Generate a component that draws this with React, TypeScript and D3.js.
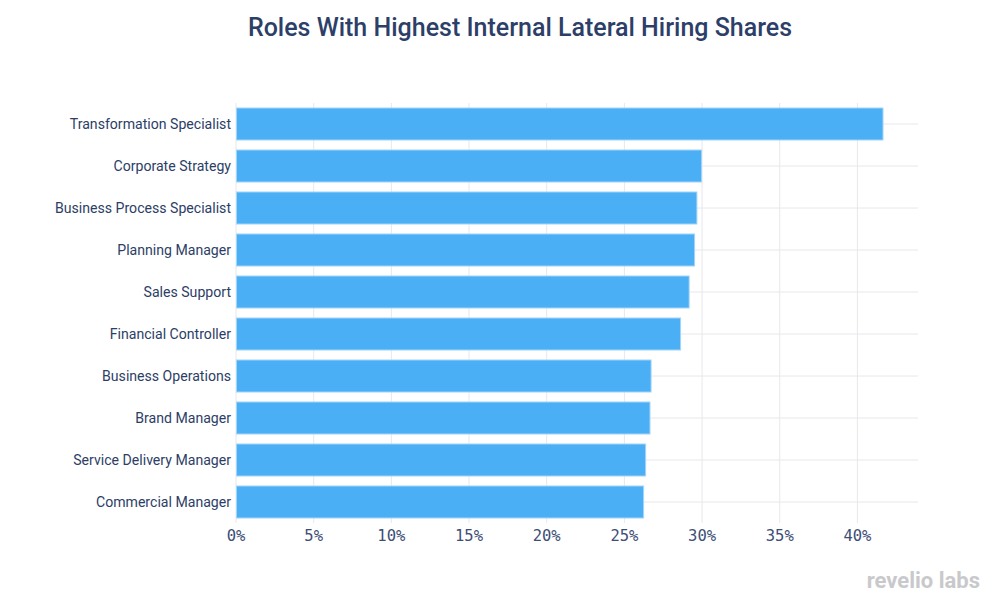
import React from "react";
import * as d3 from "d3";

const categories = [
  "Transformation Specialist",
  "Corporate Strategy",
  "Business Process Specialist",
  "Planning Manager",
  "Sales Support",
  "Financial Controller",
  "Business Operations",
  "Brand Manager",
  "Service Delivery Manager",
  "Commercial Manager",
];
const values = [41.68, 30.0, 29.7, 29.55, 29.2, 28.65, 26.75, 26.68, 26.4, 26.27];
const xTicks = [0, 5, 10, 15, 20, 25, 30, 35, 40];

const W = 1000;
const H = 610;
const M = { left: 236, right: 82, top: 103, bottom: 87 };

export default function App() {
  const x = d3.scaleLinear().domain([0, 43.9]).range([M.left, W - M.right]);
  const y = d3
    .scaleBand<string>()
    .domain(categories)
    .range([M.top, H - M.bottom])
    .paddingInner(0.214)
    .paddingOuter(0.107);
  const textColor = "#2c3e66";
  return (
    <svg
      width={W}
      height={H}
      style={{ position: "absolute", left: 0, top: 0, background: "#fff" }}
    >
      <text
        x={520}
        y={36}
        textAnchor="middle"
        fontFamily="Roboto"
        fontWeight={500}
        fontSize={25}
        fill="#2d3f68"
      >
        Roles With Highest Internal Lateral Hiring Shares
      </text>
      {xTicks.map((t) => (
        <line
          key={"vg" + t}
          x1={x(t)}
          x2={x(t)}
          y1={M.top}
          y2={H - M.bottom}
          stroke="#e8e8ec"
          strokeWidth={1}
        />
      ))}
      {categories.map((c) => (
        <line
          key={"hg" + c}
          x1={M.left}
          x2={W - M.right}
          y1={y(c)! + y.bandwidth() / 2}
          y2={y(c)! + y.bandwidth() / 2}
          stroke="#e8e8ec"
          strokeWidth={1}
        />
      ))}
      {categories.map((c, i) => (
        <rect
          key={"b" + c}
          x={x(0) + 0.5}
          y={y(c)! + 0.5}
          width={x(values[i]) - x(0) - 1}
          height={y.bandwidth() - 1}
          fill="#4aaff4"
          stroke="#a5d4f9"
          strokeWidth={1}
        />
      ))}
      {categories.map((c) => (
        <text
          key={"l" + c}
          x={M.left - 5}
          y={y(c)! + y.bandwidth() / 2}
          dy="0.35em"
          textAnchor="end"
          fontFamily="Roboto"
          fontSize={14.1}
          fill={textColor}
        >
          {c}
        </text>
      ))}
      {xTicks.map((t) => (
        <text
          key={"xt" + t}
          x={x(t)}
          y={541}
          textAnchor="middle"
          fontFamily="DejaVu Sans Mono"
          fontSize={15.5}
          fill="#3c4e76"
        >
          {t + "%"}
        </text>
      ))}
      <text
        x={980}
        y={588}
        textAnchor="end"
        fontFamily="Roboto"
        fontWeight={700}
        fontSize={22}
        fill="#c9c9cc"
      >
        revelio labs
      </text>
    </svg>
  );
}
